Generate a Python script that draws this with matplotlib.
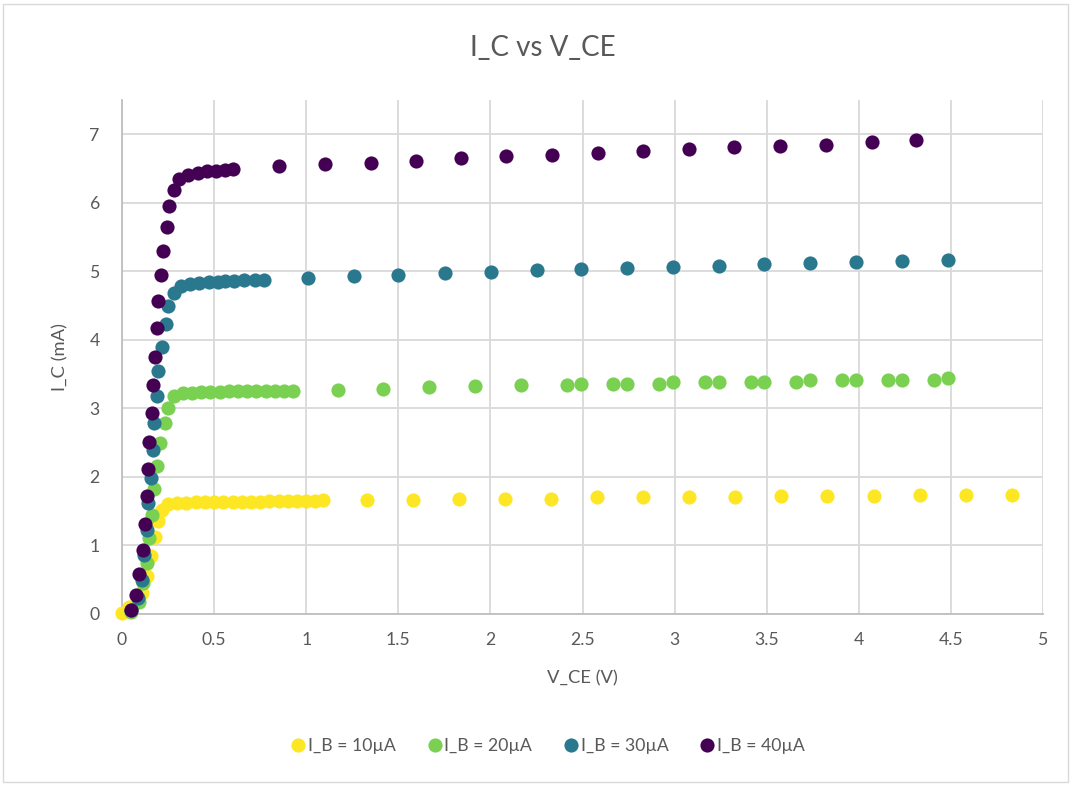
import matplotlib
matplotlib.use("Agg")
import matplotlib.pyplot as plt
from matplotlib.patches import Rectangle

plt.rcParams["font.family"] = ["Lato", "DejaVu Sans"]

# Collector current I_C (mA) against collector-emitter voltage V_CE (V)
vce_10 = [0.0, 0.04, 0.107, 0.134, 0.16, 0.18, 0.193, 0.215, 0.25, 0.30, 0.35, 0.40,
          0.45, 0.50, 0.55, 0.60, 0.65, 0.70, 0.75, 0.80, 0.85, 0.90, 0.95, 1.00,
          1.05, 1.09, 1.33, 1.58, 1.83, 2.08, 2.33, 2.58, 2.83, 3.08, 3.33, 3.58,
          3.83, 4.08, 4.33, 4.58, 4.83]
ic_10 = [0.01, 0.10, 0.30, 0.56, 0.84, 1.13, 1.36, 1.52, 1.61, 1.62, 1.62, 1.63,
         1.63, 1.63, 1.63, 1.64, 1.64, 1.64, 1.64, 1.65, 1.65, 1.65, 1.65, 1.65,
         1.65, 1.66, 1.66, 1.67, 1.68, 1.68, 1.68, 1.70, 1.70, 1.70, 1.71, 1.72,
         1.72, 1.72, 1.73, 1.74, 1.74]

vce_20 = [0.05, 0.092, 0.112, 0.134, 0.148, 0.161, 0.175, 0.19, 0.208, 0.232, 0.25,
          0.28, 0.33, 0.38, 0.43, 0.48, 0.53, 0.58, 0.63, 0.68, 0.73, 0.78, 0.83,
          0.88, 0.93, 1.175, 1.415, 1.665, 1.917, 2.166, 2.415, 2.493, 2.665,
          2.742, 2.914, 2.992, 3.163, 3.241, 3.413, 3.488, 3.66, 3.737, 3.909,
          3.986, 4.158, 4.235, 4.407, 4.482]
ic_20 = [0.03, 0.18, 0.45, 0.74, 1.11, 1.45, 1.82, 2.16, 2.50, 2.79, 3.01,
         3.18, 3.22, 3.23, 3.24, 3.24, 3.24, 3.25, 3.25, 3.25, 3.26, 3.26, 3.26,
         3.26, 3.26, 3.27, 3.29, 3.31, 3.33, 3.34, 3.34, 3.36, 3.36,
         3.36, 3.36, 3.38, 3.38, 3.39, 3.39, 3.39, 3.39, 3.41, 3.41,
         3.41, 3.41, 3.42, 3.42, 3.44]

vce_30 = [0.05, 0.089, 0.107, 0.12, 0.134, 0.143, 0.156, 0.166, 0.174, 0.188,
          0.197, 0.215, 0.24, 0.25, 0.28, 0.32, 0.37, 0.42, 0.47, 0.52, 0.56,
          0.61, 0.66, 0.72, 0.77, 1.008, 1.258, 1.501, 1.751, 2.003, 2.252,
          2.493, 2.742, 2.992, 3.241, 3.488, 3.737, 3.986, 4.235, 4.482]
ic_30 = [0.06, 0.23, 0.50, 0.86, 1.22, 1.62, 1.99, 2.39, 2.79, 3.18,
         3.55, 3.90, 4.23, 4.49, 4.69, 4.79, 4.82, 4.83, 4.84, 4.85, 4.86,
         4.86, 4.87, 4.87, 4.88, 4.90, 4.93, 4.95, 4.97, 4.99, 5.02,
         5.04, 5.05, 5.07, 5.08, 5.10, 5.12, 5.13, 5.15, 5.17]

vce_40 = [0.049, 0.076, 0.094, 0.112, 0.125, 0.134, 0.143, 0.148, 0.161, 0.17,
          0.18, 0.192, 0.197, 0.21, 0.225, 0.243, 0.257, 0.282, 0.31, 0.36,
          0.41, 0.46, 0.51, 0.56, 0.60, 0.852, 1.102, 1.35, 1.594, 1.842,
          2.087, 2.336, 2.586, 2.83, 3.08, 3.32, 3.57, 3.82, 4.07, 4.31]
ic_40 = [0.06, 0.28, 0.59, 0.94, 1.32, 1.72, 2.12, 2.51, 2.93, 3.34,
         3.75, 4.17, 4.56, 4.94, 5.30, 5.65, 5.95, 6.19, 6.35, 6.41,
         6.44, 6.46, 6.47, 6.48, 6.50, 6.53, 6.56, 6.58, 6.61, 6.65,
         6.68, 6.70, 6.73, 6.76, 6.78, 6.81, 6.83, 6.85, 6.88, 6.91]

series_labels = ["I_B = 10µA", "I_B = 20µA", "I_B = 30µA", "I_B = 40µA"]
series_colors = ["#fde725", "#7ad151", "#2a788e", "#440154"]

x_ticks = [0, 0.5, 1, 1.5, 2, 2.5, 3, 3.5, 4, 4.5, 5]
x_ticklabels = ["0", "0.5", "1", "1.5", "2", "2.5", "3", "3.5", "4", "4.5", "5"]
y_ticks = [0, 1, 2, 3, 4, 5, 6, 7]

text_color = "#595959"
grid_color = "#d9d9d9"
axis_color = "#bfbfbf"

fig = plt.figure(figsize=(10.73, 7.85), dpi=100)
fig.patch.set_facecolor("white")

# thin frame around the whole chart
fig.patches.append(Rectangle((3 / 1073, 3 / 785), 1065 / 1073, 778 / 785,
                             transform=fig.transFigure, fill=False,
                             edgecolor=grid_color, linewidth=1.0))

ax = fig.add_axes([122 / 1073, 1 - 614 / 785, 921 / 1073, 514 / 785])

data = [(vce_10, ic_10), (vce_20, ic_20), (vce_30, ic_30), (vce_40, ic_40)]
for (xs, ys), lab, col in zip(data, series_labels, series_colors):
    ax.plot(xs, ys, linestyle="none", marker="o", markersize=10.2,
            markerfacecolor=col, markeredgewidth=0, label=lab, zorder=3,
            clip_on=False)

ax.set_xlim(0, 5)
ax.set_ylim(0, 7.5)
ax.set_xticks(x_ticks)
ax.set_xticklabels(x_ticklabels)
ax.set_yticks(y_ticks)

ax.grid(True, color=grid_color, linewidth=1.3, zorder=0)
ax.set_axisbelow(True)
for side in ["top", "right"]:
    ax.spines[side].set_visible(False)
for side in ["left", "bottom"]:
    ax.spines[side].set_color(axis_color)
    ax.spines[side].set_linewidth(1.3)

ax.tick_params(axis="both", length=0, labelsize=12.7, labelcolor=text_color)
ax.tick_params(axis="x", pad=13)
ax.tick_params(axis="y", pad=16)

ax.set_xlabel("V_CE (V)", fontsize=13.2, color=text_color, labelpad=16)
ax.set_ylabel("I_C (mA)", fontsize=13.2, color=text_color, labelpad=15)

fig.text(543 / 1073, 1 - 48 / 785, "I_C vs V_CE", ha="center", va="center",
         fontsize=20, color=text_color)

leg = fig.legend(loc="center", bbox_to_anchor=(547 / 1073, 1 - 746 / 785),
                 ncol=4, frameon=False, fontsize=12.7, handletextpad=0.05,
                 columnspacing=1.7, markerscale=1.0, handlelength=1.0,
                 labelcolor=text_color)

fig.savefig("out.png", dpi=100, facecolor="white")
